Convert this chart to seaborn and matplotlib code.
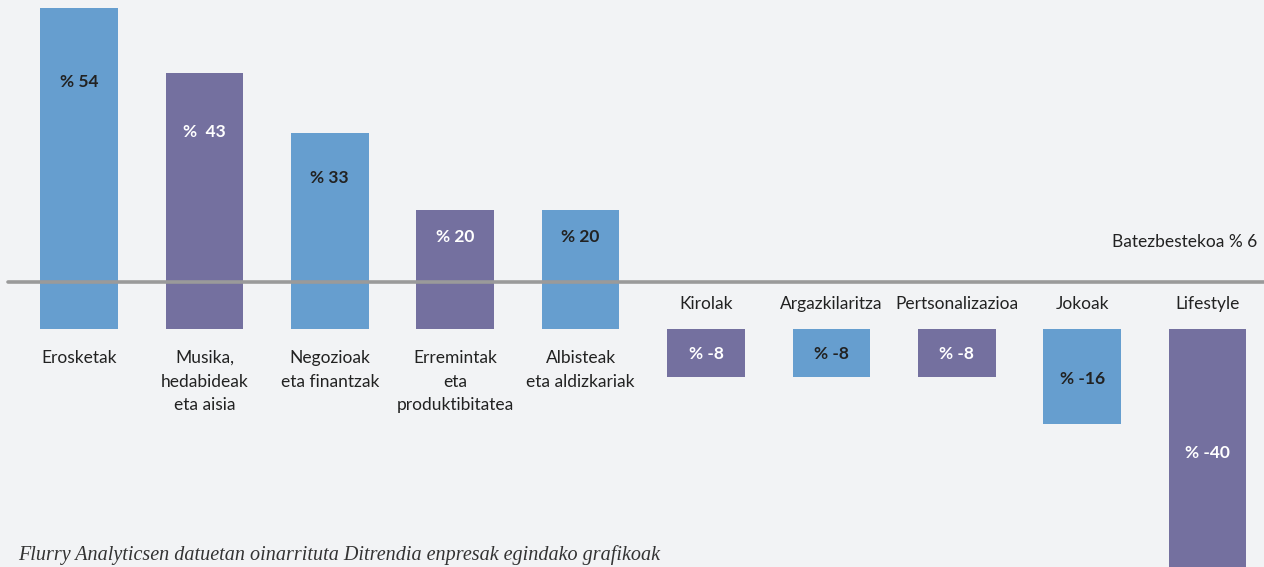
import numpy as np
import pandas as pd
import matplotlib
matplotlib.use("Agg")
import matplotlib.pyplot as plt
import seaborn as sns

# data
categories = ["Erosketak", "Musika,\nhedabideak\neta aisia", "Negozioak\neta finantzak",
              "Erremintak\neta\nproduktibitatea", "Albisteak\neta aldizkariak",
              "Kirolak", "Argazkilaritza", "Pertsonalizazioa", "Jokoak", "Lifestyle"]
growth = [54, 43, 33, 20, 20, -8, -8, -8, -16, -40]
bar_labels = ["% 54", "%  43", "% 33", "% 20", "% 20", "% -8", "% -8", "% -8", "% -16", "% -40"]
average = 6
average_text = "Batezbestekoa % 6"
source_text = "Flurry Analyticsen datuetan oinarrituta Ditrendia enpresak egindako grafikoak"

blue = "#669ecf"
purple = "#74709f"
bg = "#f2f3f5"
bar_colors = [blue, purple, blue, purple, blue, purple, blue, purple, blue, purple]

sns.set_style("white")
plt.rcParams["font.family"] = ["Lato", "DejaVu Sans"]

df = pd.DataFrame({"cat": categories, "val": growth})

fig = plt.figure(figsize=(12.64, 5.67), dpi=100, facecolor=bg)
ax = fig.add_axes([0, 0, 1, 1])
ax.set_facecolor(bg)

sns.barplot(data=df, x="cat", y="val", hue="cat", palette=bar_colors,
            width=0.62, legend=False, ax=ax, saturation=1,
            edgecolor="none", linewidth=0)

ax.set_xlim(-0.63, 9.45)
ax.set_ylim(-40.0, 55.3)
for s in ax.spines.values():
    s.set_visible(False)
ax.set_xticks([])
ax.set_yticks([])
ax.set_xlabel("")
ax.set_ylabel("")

# average line (drawn a little above the value, as in the source graphic)
line_y = average + 1.9
ax.plot([-0.57, 9.45], [line_y, line_y], color="#9a9a9a", lw=2.6, zorder=3)
ax.text(9.4, line_y + 6.8, average_text, ha="right", va="center",
        fontsize=12.5, color="#222222")

for i, (v, lab, cat, col) in enumerate(zip(growth, bar_labels, categories, bar_colors)):
    txt_col = "white" if col == purple else "#222222"
    ypos = v * 0.77 if v > 0 else v * 0.52
    ax.text(i, ypos, lab, ha="center", va="center", fontsize=12.5,
            fontweight="bold", color=txt_col, zorder=4)
    if v > 0:
        ax.annotate(cat, (i, 0), xytext=(0, -15), textcoords="offset points",
                    ha="center", va="top", fontsize=12.5, color="#222222",
                    linespacing=1.6)
    else:
        ax.annotate(cat, (i, 0), xytext=(0, 12), textcoords="offset points",
                    ha="center", va="bottom", fontsize=12.5, color="#222222")

fig.text(0.014, 0.003, source_text, ha="left", va="bottom",
         fontsize=14.5, style="italic", color="#333333",
         family=["Liberation Serif", "DejaVu Serif"])

fig.savefig("out.png", dpi=100, facecolor=bg)
